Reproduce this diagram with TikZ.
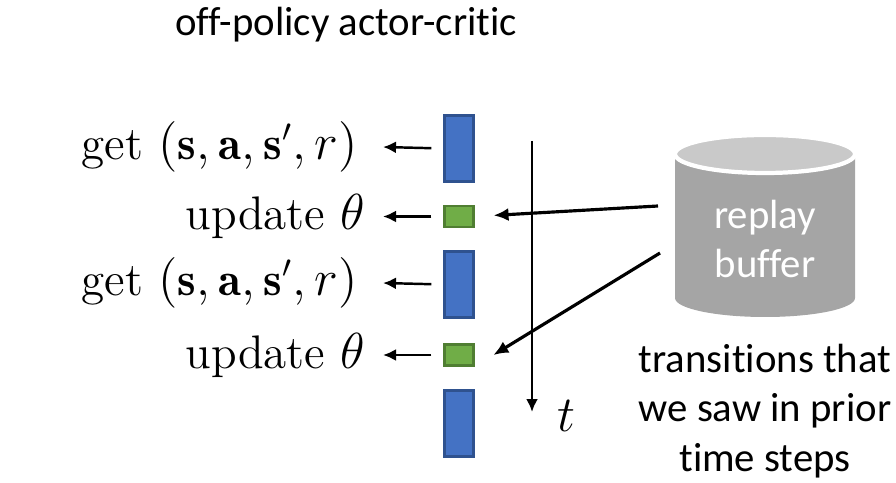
\documentclass[tikz,border=0pt]{standalone}
\usepackage{fontspec}
\newfontfamily\calibri[RawFeature=-liga]{Carlito}
\usetikzlibrary{arrows.meta}
\definecolor{blockblue}{HTML}{4472C4}
\definecolor{blueedge}{HTML}{2F528F}
\definecolor{blockgreen}{HTML}{70AD47}
\definecolor{greenedge}{HTML}{507E32}
\definecolor{bufbody}{HTML}{A5A5A5}
\definecolor{buftop}{HTML}{C9C9C9}

\begin{document}
\begin{tikzpicture}[
  getblock/.style={draw=blueedge,fill=blockblue,line width=0.6pt,minimum width=0.29cm,minimum height=0.66cm,inner sep=0pt},
  updblock/.style={draw=greenedge,fill=blockgreen,line width=0.6pt,minimum width=0.29cm,minimum height=0.21cm,inner sep=0pt},
  lbl/.style={anchor=east,inner sep=0pt,outer sep=0.25cm,font=\fontsize{13.4}{16}\selectfont},
  arr/.style={-{Latex[length=0.13cm,width=0.12cm]},line width=0.7pt},
  bufarr/.style={-{Latex[length=0.15cm,width=0.13cm]},line width=0.9pt},
  sans/.style={font=\calibri\fontsize{11.6}{14}\selectfont,align=center,inner sep=0pt}]
\useasboundingbox (0,0) rectangle (8.96,-4.83);
\node[sans,anchor=base] (title) at (3.46,-0.36) {off-policy actor-critic};
% steps in time
\node[getblock] (b1) at (4.59,-1.485) {};
\node[updblock] (g1) at (4.59,-2.165) {};
\node[getblock] (b2) at (4.59,-2.845) {};
\node[updblock] (g2) at (4.59,-3.55) {};
\node[getblock] (b3) at (4.59,-4.235) {};
\node[lbl] (l1) at (3.83,-1.47) {get $(\mathbf{s},\mathbf{a},\mathbf{s}',r)$};
\node[lbl,outer sep=0.18cm] (l2) at (3.83,-2.165) {update $\theta$};
\node[lbl] (l3) at (3.83,-2.83) {get $(\mathbf{s},\mathbf{a},\mathbf{s}',r)$};
\node[lbl,outer sep=0.18cm] (l4) at (3.83,-3.55) {update $\theta$};
\draw [arr,shorten <=0.12cm] (b1.west) -- (l1.east);
\draw [arr,shorten <=0.12cm] (g1.west) -- (l2.east);
\draw [arr,shorten <=0.12cm] (b2.west) -- (l3.east);
\draw [arr,shorten <=0.12cm] (g2.west) -- (l4.east);
% time axis
\coordinate (t0) at (5.32,-1.41);
\coordinate (t1) at (5.32,-4.12);
\draw [arr] (t0) -- (t1);
\node[font=\fontsize{14}{16}\selectfont] (tlbl) at (5.66,-4.16) {$t$};
% replay buffer
\fill [bufbody] (6.75,-1.54) -- (6.75,-2.98) arc [start angle=180,end angle=360,x radius=0.9,y radius=0.19] -- (8.55,-1.54) -- cycle;
\draw [white,line width=1.2pt,fill=buftop] (7.65,-1.54) ellipse [x radius=0.9,y radius=0.19];
\node[sans,text=white] (buf) at (7.65,-2.39) {replay\\buffer};
\coordinate (bufout1) at (6.58,-2.06);
\coordinate (bufout2) at (6.60,-2.53);
\draw [bufarr,shorten >=0.19cm] (bufout1) -- (g1.east);
\draw [bufarr,shorten >=0.22cm] (bufout2) -- (g2.south east);
\node[sans] (note) at (7.65,-4.11) {transitions that\\we saw in prior\\time steps};
\end{tikzpicture}
\end{document}
